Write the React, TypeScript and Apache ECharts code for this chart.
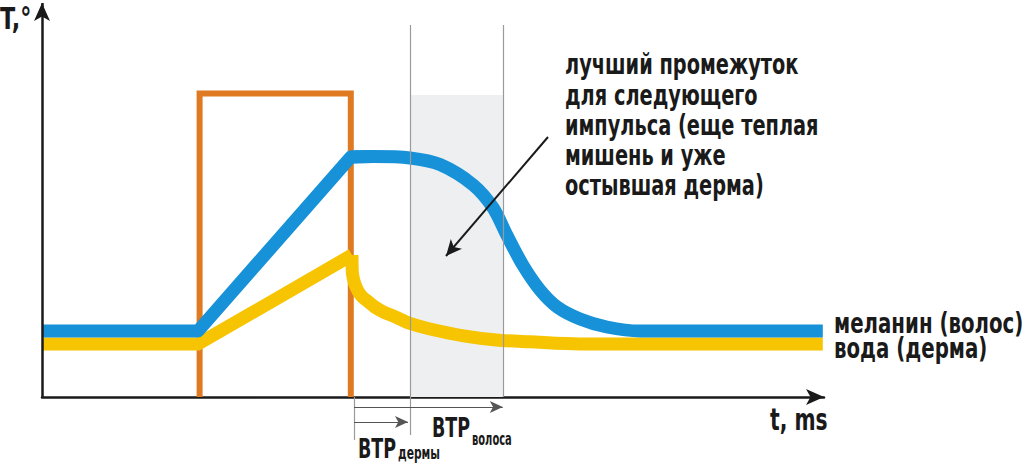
import { useEffect, useRef } from "react";
import * as echarts from "echarts";

// Schematic: temperature of hair melanin vs. dermis water after a laser pulse.
// Units are arbitrary (time 0..97.75, temperature 0..99).

const FONT = "'Liberation Sans Narrow', 'DejaVu Sans Condensed', 'Open Sans', sans-serif";
const INK = "#1a1a1a";

const TIME_MAX = 97.75;
const TEMP_MAX = 99;
const TEMP_MIN = -16;

// melanin (hair) curve: heating ramp, then slow cooling
const melaninRiseT = [0, 19.5, 38.6, 41.4];
const melaninRiseV = [16.5, 16.5, 60, 60.1];
const melaninFallT = [38.6, 41.4, 46, 49.75, 53.9, 56.4, 58.1, 60.1, 62.25, 64.4, 67.25, 70.6, 74.75, 97.6];
const melaninFallV = [60, 60.1, 59.75, 58.1, 53, 47.25, 40.5, 33, 26.75, 22.5, 19.5, 17.5, 16.5, 16.5];

// water (dermis) curve: heating ramp, then fast cooling after the pulse
const waterRiseT = [0, 19.5, 38.75];
const waterRiseV = [13.25, 13.25, 35.5];
const waterFallT = [38.75, 38.8, 39.1, 39.55, 40.1, 40.8, 41.6, 42.65, 44.2, 46, 48.5, 52.7, 56.8, 61, 67.25, 97.6];
const waterFallV = [35.5, 31, 28.3, 26.3, 24.9, 23.8, 22.5, 21.3, 20, 18.4, 17, 15.3, 14.25, 13.8, 13.25, 13.25];

// laser pulse
const pulseT = [19.7, 19.7, 38.6, 38.6];
const pulseV = [0, 75.9, 75.9, 0];

// time marks: pulse end, dermis TRT, hair TRT
const pulseEnd = 39;
const dermisTrt = 46;
const hairTrt = 57.6;
const windowTop = 75.5;
const guideTop = 93;

const seriesNames = ["меланин (волос)", "вода (дерма)"];
const noteLines = [
  "лучший промежуток",
  "для следующего",
  "импульса (еще теплая",
  "мишень и уже",
  "остывшая дерма)",
];

const zip = (xs: number[], ys: number[]) => xs.map((x, i) => [x, ys[i]]);

const label = (text: string, x: number, y: number, size: number, squeeze: number) => ({
  type: "text",
  x,
  y,
  scaleX: squeeze,
  silent: true,
  style: {
    text,
    fill: INK,
    fontFamily: FONT,
    fontWeight: "bold",
    fontSize: size,
    verticalAlign: "middle",
  },
});

export default function App() {
  const ref = useRef<HTMLDivElement>(null);

  useEffect(() => {
    document.body.style.margin = "0";
    if (!ref.current) return;
    const chart = echarts.init(ref.current, null, { renderer: "svg" });

    const arrowEnd = (coord: number[], size: number[]) => ({
      coord,
      symbol: "arrow",
      symbolSize: size,
    });
    const plain = (coord: number[]) => ({ coord, symbol: "none" });
    const curve = (color: string, join: string) => ({
      type: "line",
      symbol: "none",
      silent: true,
      lineStyle: { color, width: 13, cap: "butt", join },
    });

    chart.setOption({
      animation: false,
      grid: { left: 42, top: 1, width: TIME_MAX * 8, height: (TEMP_MAX - TEMP_MIN) * 4 },
      xAxis: {
        type: "value",
        min: 0,
        max: TIME_MAX,
        axisLine: {
          onZero: true,
          symbol: ["none", "arrow"],
          symbolSize: [12, 18],
          lineStyle: { color: INK, width: 2.5 },
        },
        axisTick: { show: false },
        axisLabel: { show: false },
        splitLine: { show: false },
      },
      yAxis: {
        type: "value",
        min: TEMP_MIN,
        max: TEMP_MAX,
        axisLine: { show: false },
        axisTick: { show: false },
        axisLabel: { show: false },
        splitLine: { show: false },
      },
      series: [
        {
          name: "bg",
          type: "line",
          data: [],
          z: 1,
          silent: true,
          markArea: {
            silent: true,
            itemStyle: { color: "#eeeff1" },
            data: [[{ coord: [dermisTrt, 0] }, { coord: [hairTrt, windowTop] }]],
          },
          markLine: {
            silent: true,
            symbol: "none",
            label: { show: false },
            lineStyle: { color: "#9a9a9a", width: 1.2, type: "solid" },
            data: [
              [plain([dermisTrt, -9.5]), plain([dermisTrt, guideTop])],
              [plain([hairTrt, 0]), plain([hairTrt, guideTop])],
              [plain([pulseEnd, 0]), plain([pulseEnd, -10.75])],
            ],
          },
        },
        {
          name: "импульс",
          type: "line",
          data: zip(pulseT, pulseV),
          z: 2,
          symbol: "none",
          silent: true,
          lineStyle: { color: "#e07a22", width: 6, join: "miter", cap: "butt" },
        },
        { ...curve("#f6c400", "miter"), name: seriesNames[1], z: 3, data: zip(waterRiseT, waterRiseV) },
        { ...curve("#f6c400", "round"), name: seriesNames[1], z: 3, smooth: 0.3, data: zip(waterFallT, waterFallV) },
        { ...curve("#1792d8", "round"), name: seriesNames[0], z: 4, data: zip(melaninRiseT, melaninRiseV) },
        { ...curve("#1792d8", "round"), name: seriesNames[0], z: 4, smooth: 0.3, data: zip(melaninFallT, melaninFallV) },
        {
          name: "notes",
          type: "line",
          data: [],
          z: 5,
          silent: true,
          markLine: {
            silent: true,
            label: { show: false },
            lineStyle: { color: INK, width: 2.5, type: "solid" },
            data: [
              // temperature axis
              [plain([0, 0]), arrowEnd([0, 98.5], [12, 18])],
              // BTP hair
              [
                { ...plain([pulseEnd, -2.5]), lineStyle: { color: "#555", width: 1 } },
                arrowEnd([hairTrt, -2.5], [9, 13]),
              ],
              // BTP dermis
              [
                { ...plain([pulseEnd, -6.25]), lineStyle: { color: "#555", width: 1 } },
                arrowEnd([45.75, -6.25], [9, 13]),
              ],
              // note pointer
              [
                { ...plain([63.25, 65]), lineStyle: { color: INK, width: 2 } },
                arrowEnd([50.5, 35.25], [11, 16]),
              ],
            ],
          },
        },
      ],
      graphic: [
        label("T,°", 0, 18.5, 31, 0.8),
        label("t, ms", 770, 419, 30, 0.75),
        label("BTP", 358, 449, 27, 0.72),
        label("дермы", 398, 453, 17, 0.7),
        label("BTP", 432, 428, 27, 0.72),
        label("волоса", 472, 439.5, 17, 0.65),
        label(seriesNames[0], 834, 324, 28, 0.785),
        label(seriesNames[1], 834, 349, 28, 0.785),
        {
          type: "text",
          x: 565,
          y: 49,
          scaleX: 0.742,
          silent: true,
          style: {
            text: noteLines.join("\n"),
            fill: INK,
            fontFamily: FONT,
            fontWeight: "bold",
            fontSize: 29,
            lineHeight: 30.2,
            verticalAlign: "top",
          },
        },
      ],
    });

    return () => chart.dispose();
  }, []);

  return <div ref={ref} style={{ width: 1023, height: 469 }} />;
}
